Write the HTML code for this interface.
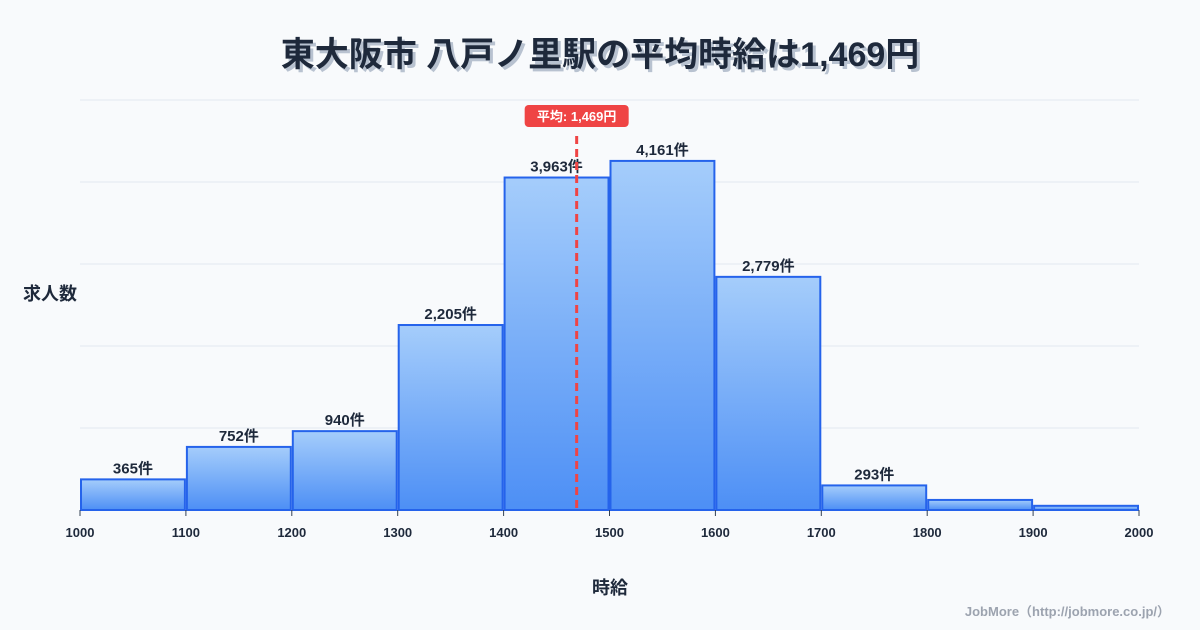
<!DOCTYPE html>
<html><head><meta charset="utf-8"><style>
html,body{margin:0;padding:0;background:#f8fafc;}
svg{display:block;font-family:"Liberation Sans","Noto Sans CJK JP",sans-serif;}
</style></head><body>
<svg id="chart" width="1200" height="630" viewBox="0 0 1200 630">
<defs><linearGradient id="g" x1="0" y1="0" x2="0" y2="1"><stop offset="0" stop-color="#a5cdfb"/><stop offset="1" stop-color="#4d8ff5"/></linearGradient></defs>
<rect width="1200" height="630" fill="#f8fafc"/>
<text x="603" y="69" text-anchor="middle" font-size="34" font-weight="bold" fill="#b8c2d0">東大阪市 八戸ノ里駅の平均時給は1,469円</text>
<text x="600" y="66" text-anchor="middle" font-size="34" font-weight="bold" fill="#1e293b">東大阪市 八戸ノ里駅の平均時給は1,469円</text>
<text x="50" y="300" text-anchor="middle" font-size="18" font-weight="bold" fill="#1e293b">求人数</text>
<text x="610" y="594" text-anchor="middle" font-size="18" font-weight="bold" fill="#1e293b">時給</text>
<text x="1170" y="616" text-anchor="end" font-size="13" font-weight="bold" fill="#9ca3af">JobMore（http://jobmore.co.jp/）</text>
<g id="grid"></g><g id="bars"></g><g id="xaxis"></g><g id="mean"></g>
</svg>
<script>
const binStarts=[1000,1100,1200,1300,1400,1500,1600,1700,1800,1900];
const counts=[365,752,940,2205,3963,4161,2779,293,120,50];
const labels=["365件","752件","940件","2,205件","3,963件","4,161件","2,779件","293件","",""];
const xTicks=[1000,1100,1200,1300,1400,1500,1600,1700,1800,1900,2000];
const meanValue=1469;
const meanLabel="平均: 1,469円";
const yMax=4887;
const NS="http://www.w3.org/2000/svg";
const L=80,R=1139,B=510,T=100;
const x=v=>L+(v-1000)/1000*(R-L);
const y=v=>B-v/yMax*(B-T);
function mk(tag,attrs,parent){const e=document.createElementNS(NS,tag);for(const k in attrs)e.setAttribute(k,attrs[k]);parent.appendChild(e);return e;}
const grid=document.getElementById('grid');
for(let i=0;i<=5;i++){const gy=B-i*(B-T)/5;const l=mk('line',{x1:L,x2:R,y1:gy,y2:gy,stroke:'#e2e8f0','stroke-width':1},grid);

}
const bars=document.getElementById('bars');
binStarts.forEach((s,i)=>{const x0=x(s)+1,x1=x(s+100)-1,yt=y(counts[i]);
const r=mk('rect',{x:x0,y:yt,width:x1-x0,height:B-yt,fill:'url(#g)',stroke:'#2563eb','stroke-width':2},bars);


if(labels[i]){const t=mk('text',{x:(x0+x1)/2,y:yt-6,'text-anchor':'middle','font-size':15,'font-weight':'bold',fill:'#1e293b'},bars);t.textContent=labels[i];

}});
const xa=document.getElementById('xaxis');
xTicks.forEach(v=>{const tk=mk('line',{x1:x(v),x2:x(v),y1:B,y2:B+6,stroke:'#334155','stroke-width':1},xa);


const t=mk('text',{x:x(v),y:B+27,'text-anchor':'middle','font-size':13,'font-weight':'bold',fill:'#1e293b'},xa);t.textContent=v;

});
const mg=document.getElementById('mean');const mx=x(meanValue);
const ml=mk('line',{x1:mx,x2:mx,y1:136,y2:B,stroke:'#ef4444','stroke-width':3,'stroke-dasharray':'8,5'},mg);


const mb=mk('rect',{x:mx-52,y:105,width:104,height:22,rx:4,fill:'#ef4444'},mg);


const mt=mk('text',{x:mx,y:121,'text-anchor':'middle','font-size':13,'font-weight':'bold',fill:'#fff'},mg);mt.textContent=meanLabel;


</script>
</body></html>
